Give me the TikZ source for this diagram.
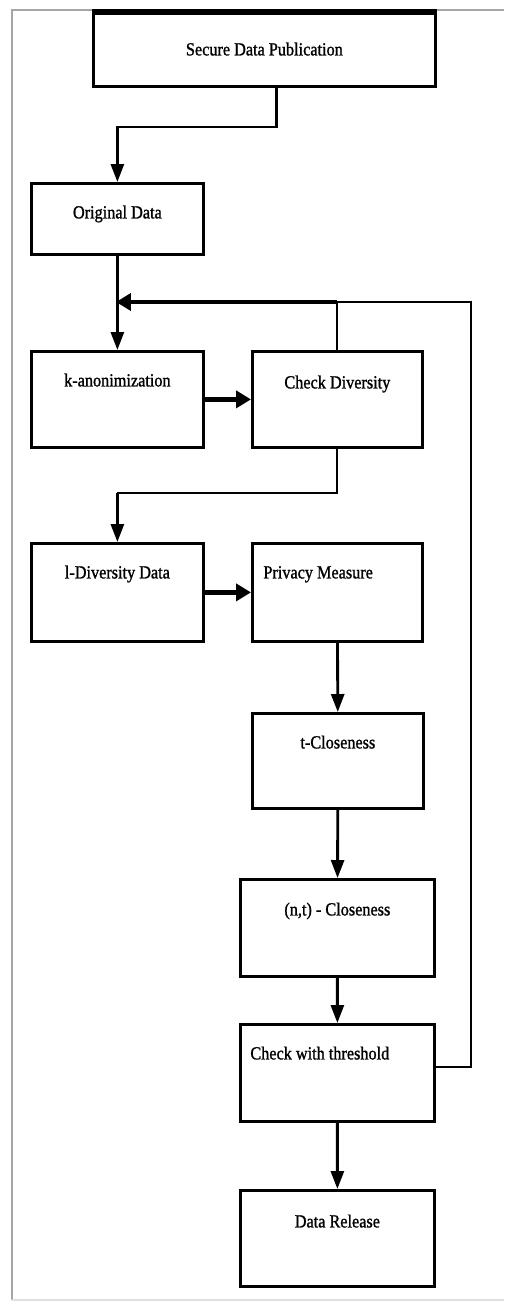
\documentclass[tikz,border=0pt]{standalone}
\usepackage{fontspec}
\setmainfont{Liberation Serif}[FakeStretch=0.88, FakeBold=1.2]
\usepackage{tikz}
\usetikzlibrary{positioning, calc, arrows, arrows.meta}

\tikzset{
  flowbox/.style = {draw, line width=1.6pt, anchor=north west, inner sep=0pt,
                    text height=0.7cm, font=\fontsize{10.5}{12}\selectfont},
  line/.style = {line width=1.1pt},
  arrow/.style = {line width=1.6pt, -{Triangle[length=0.36cm, width=0.26cm]}},
  bigarrow/.style = {line width=2.6pt, -{Triangle[length=0.3cm, width=0.34cm]}}
}

\begin{document}
\begin{tikzpicture}[x=0.02cm, y=-0.02cm]
	\useasboundingbox (0,0) rectangle (504,1304);
	% frame
	\draw[gray!70, line width=0.6pt] (12,1300) -- (12,10) -- (504,10);
	\draw[gray!25, line width=0.6pt] (12,1300) -- (504,1300);

	% boxes
	\node[flowbox, minimum width=6.84cm, text height=0.84cm, text depth=0.62cm] (pub) at (92,12) {Secure Data Publication};
	\draw[line width=3pt] (pub.north west) -- (pub.north east);
	\node[flowbox, minimum width=3.44cm, text depth=0.72cm] (orig) at (30,182) {Original Data};
	\node[flowbox, minimum width=3.44cm, text depth=1.22cm] (kanon) at (30,350) {k-anonimization};
	\node[flowbox, minimum width=3.40cm, text height=0.74cm, text depth=1.18cm] (chkdiv) at (251,350) {Check Diversity};
	\node[flowbox, minimum width=3.44cm, text depth=1.26cm] (ldiv) at (30,542) {l-Diversity Data};
	\node[flowbox, inner xsep=0.22cm, text width=2.96cm, align=flush left, text depth=1.26cm] (priv) at (251,542) {Privacy Measure};
	\node[flowbox, minimum width=3.42cm, text depth=1.20cm] (tclose) at (251,712) {t-Closeness};
	\node[flowbox, minimum width=3.88cm, text height=0.72cm, text depth=1.22cm] (ntclose) at (239,878) {(n,t) - Closeness};
	\node[flowbox, inner xsep=0.2cm, text width=3.48cm, align=flush left, text depth=1.24cm] (thresh) at (239,1023) {Check with threshold};
	\node[flowbox, minimum width=3.88cm, text height=0.74cm, text depth=1.18cm] (release) at (239,1189) {Data Release};

	% loop back points
	\coordinate (loop) at (116,302);
	\coordinate (join) at (chkdiv.north |- loop);
	\coordinate (corner) at (471,302);

	% connectors
	\draw[arrow] ([xshift=0.24cm]pub.south) |- (orig.north |- 0,127) -- (orig.north);
	\draw[arrow] (orig) -- (kanon);
	\draw[bigarrow] (kanon) -- (chkdiv);
	\draw[line] (chkdiv.north) -- (join);
	\draw[line width=1.6pt] ([yshift=0.12cm]thresh.east) -| (corner) -- (join);
	\draw[bigarrow, line width=2.2pt] (join) -- (loop);
	\draw[line] (chkdiv.south) |- (ldiv.north |- 0,493);
	\draw[arrow] (ldiv.north |- 0,493) -- (ldiv.north);
	\draw[bigarrow] (ldiv) -- (priv);
	\draw[arrow] (priv) -- (tclose);
	\draw[arrow] (tclose) -- (ntclose);
	\draw[arrow] (ntclose) -- (thresh);
	\draw[arrow] (thresh) -- (release);
\end{tikzpicture}
\end{document}
